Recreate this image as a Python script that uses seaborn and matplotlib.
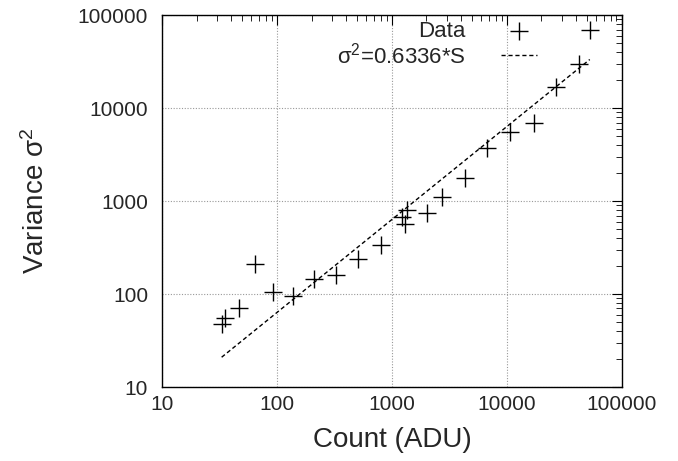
import numpy as np
import pandas as pd
import matplotlib
matplotlib.use('Agg')
from matplotlib import pyplot as plt
import seaborn as sns

# values (log-log)
count_adu = [33.0, 35.3, 46.5, 64.4, 91.8, 138.7, 210, 324, 506, 798,
             1213, 1297, 1343, 2028, 2704, 4312, 6745, 10620, 17260, 27030,
             42270, 52700]
variance = [47.5, 55.6, 71.3, 208, 106, 95, 145, 161, 236, 334,
            678, 566, 800, 738, 1112, 1754, 3687, 5560, 6843, 16700,
            29500, 69000]
fit_slope = 0.6336
tick_vals = [10, 100, 1000, 10000, 100000]
tick_labels = ['10', '100', '1000', '10000', '100000']

df = pd.DataFrame({'count': count_adu, 'var': variance})
fit_x = [min(count_adu), max(count_adu)]
fit_df = pd.DataFrame({'count': fit_x, 'var': [fit_slope * v for v in fit_x]})

sns.set_theme(style='white')
plt.rcParams['font.family'] = ['Liberation Sans', 'DejaVu Sans']
plt.rcParams['mathtext.fontset'] = 'custom'
plt.rcParams['mathtext.rm'] = 'Liberation Sans'
plt.rcParams['mathtext.it'] = 'Liberation Sans'

fig, ax = plt.subplots(figsize=(6.78, 4.61), dpi=100)
fig.subplots_adjust(left=0.239, right=0.917, top=0.967, bottom=0.1605)

sns.scatterplot(data=df, x='count', y='var', marker='+', s=150, color='black',
                linewidth=1.0, label='Data', ax=ax, zorder=3)
sns.lineplot(data=fit_df, x='count', y='var', color='black', linewidth=1.0,
             linestyle=(0, (3, 2)), label='σ$^2$=0.6336*S', ax=ax, zorder=2)

ax.set_xscale('log')
ax.set_yscale('log')
ax.set_xlim(10, 100000)
ax.set_ylim(10, 100000)
ax.set_xticks(tick_vals)
ax.set_xticklabels(tick_labels)
ax.set_yticks(tick_vals)
ax.set_yticklabels(tick_labels)

ax.grid(True, which='major', color='#999999', linestyle=(0, (1, 1.5)), linewidth=0.8)
ax.tick_params(which='both', direction='in', top=True, right=True, color='black')
ax.tick_params(which='major', length=7, width=0.8, labelsize=15)
ax.tick_params(which='minor', length=4, width=0.6)
ax.tick_params(axis='x', which='major', pad=6)
ax.tick_params(axis='y', which='major', pad=10)
for s in ax.spines.values():
    s.set_color('black')
    s.set_linewidth(1.0)

ax.set_xlabel('Count (ADU)', fontsize=20, labelpad=9)
ax.set_ylabel('Variance σ$^2$', fontsize=20, labelpad=20)

leg = ax.legend(loc='upper right', bbox_to_anchor=(0.815, 0.985), frameon=False,
                markerfirst=False, fontsize=16, handlelength=1.6,
                labelspacing=0.02, handletextpad=1.6, borderaxespad=0,
                borderpad=0)

plt.savefig('out.png', dpi=100)
